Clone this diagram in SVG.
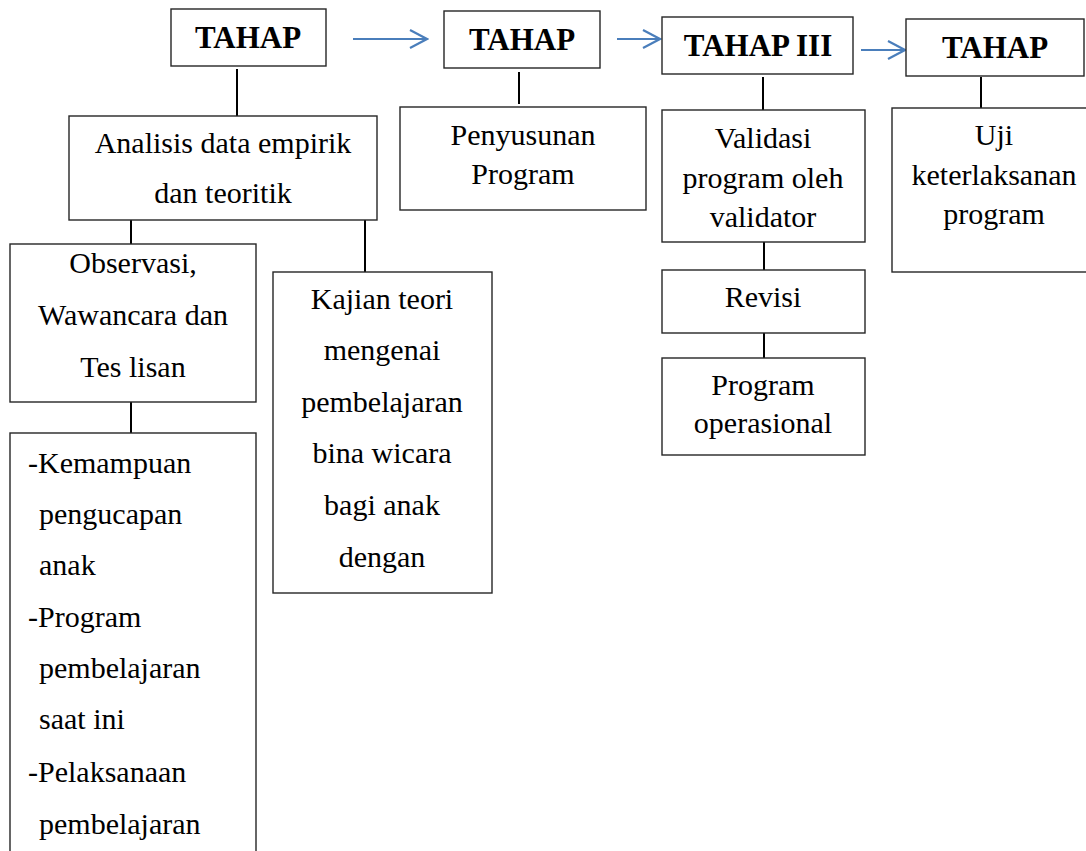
<svg xmlns="http://www.w3.org/2000/svg" width="1086" height="851" viewBox="0 0 1086 851">
<style>
  .box { fill: #ffffff; stroke: #262626; stroke-width: 1.4; }
  .t { font-family: "Liberation Serif", "Times New Roman", serif; font-size: 30px; fill: #000; text-anchor: middle; }
  .tl { font-family: "Liberation Serif", "Times New Roman", serif; font-size: 30px; fill: #000; text-anchor: start; }
  .h { font-family: "Liberation Serif", "Times New Roman", serif; font-size: 31px; font-weight: bold; fill: #000; text-anchor: middle; }
  .ln { stroke: #000; stroke-width: 2; fill: none; }
  .arr { stroke: #4a7ebb; stroke-width: 2.2; fill: none; }
</style>
<defs>
  <marker id="open" markerWidth="20" markerHeight="20" refX="18" refY="10" orient="auto" markerUnits="userSpaceOnUse">
    <path d="M1,1 L18,10 L1,19" fill="none" stroke="#4a7ebb" stroke-width="2.2"/>
  </marker>
</defs>
<rect width="1086" height="851" fill="#ffffff"/>

<g id="connectors">
  <line class="arr" x1="353" y1="39" x2="427" y2="39" marker-end="url(#open)"/>
  <line class="arr" x1="617" y1="39" x2="660" y2="39" marker-end="url(#open)"/>
  <line class="arr" x1="861" y1="50" x2="905" y2="50" marker-end="url(#open)"/>
  <line class="ln" x1="237" y1="69" x2="237" y2="116"/>
  <line class="ln" x1="519" y1="72" x2="519" y2="104"/>
  <line class="ln" x1="763" y1="77" x2="763" y2="110"/>
  <line class="ln" x1="981" y1="77" x2="981" y2="108"/>
  <line class="ln" x1="131" y1="220" x2="131" y2="244"/>
  <line class="ln" x1="365" y1="220" x2="365" y2="272"/>
  <line class="ln" x1="131" y1="402" x2="131" y2="433"/>
  <line class="ln" x1="764" y1="242" x2="764" y2="270"/>
  <line class="ln" x1="764" y1="333" x2="764" y2="358"/>
</g>

<g id="tahap1">
  <rect class="box" x="171" y="9" width="155" height="57"/>
  <text class="h" x="248" y="48">TAHAP</text>
</g>
<g id="tahap2">
  <rect class="box" x="444" y="11" width="156" height="57"/>
  <text class="h" x="522" y="50">TAHAP</text>
</g>
<g id="tahap3">
  <rect class="box" x="662" y="17" width="191" height="57"/>
  <text class="h" x="758" y="56">TAHAP III</text>
</g>
<g id="tahap4">
  <rect class="box" x="906" y="19" width="178" height="57"/>
  <text class="h" x="995" y="58">TAHAP</text>
</g>

<g id="analisis">
  <rect class="box" x="69" y="116" width="308" height="104"/>
  <text class="t" x="223" y="153">Analisis data empirik</text>
  <text class="t" x="223" y="203">dan teoritik</text>
</g>
<g id="penyusunan">
  <rect class="box" x="400" y="107" width="246" height="103"/>
  <text class="t" x="523" y="145">Penyusunan</text>
  <text class="t" x="523" y="184">Program</text>
</g>
<g id="validasi">
  <rect class="box" x="662" y="110" width="203" height="132"/>
  <text class="t" x="763" y="148">Validasi</text>
  <text class="t" x="763" y="188">program oleh</text>
  <text class="t" x="763" y="227">validator</text>
</g>
<g id="uji">
  <rect class="box" x="892" y="108" width="210" height="164"/>
  <text class="t" x="994" y="145">Uji</text>
  <text class="t" x="994" y="185">keterlaksanan</text>
  <text class="t" x="994" y="224">program</text>
</g>
<g id="observasi">
  <rect class="box" x="10" y="244" width="246" height="158"/>
  <text class="t" x="133" y="273">Observasi,</text>
  <text class="t" x="133" y="325">Wawancara dan</text>
  <text class="t" x="133" y="377">Tes lisan</text>
</g>
<g id="kajian">
  <rect class="box" x="273" y="272" width="219" height="321"/>
  <text class="t" x="382" y="309">Kajian teori</text>
  <text class="t" x="382" y="360">mengenai</text>
  <text class="t" x="382" y="412">pembelajaran</text>
  <text class="t" x="382" y="463">bina wicara</text>
  <text class="t" x="382" y="515">bagi anak</text>
  <text class="t" x="382" y="567">dengan</text>
</g>
<g id="revisi">
  <rect class="box" x="662" y="270" width="203" height="63"/>
  <text class="t" x="763" y="307">Revisi</text>
</g>
<g id="operasional">
  <rect class="box" x="662" y="358" width="203" height="97"/>
  <text class="t" x="763" y="395">Program</text>
  <text class="t" x="763" y="433">operasional</text>
</g>
<g id="daftar">
  <rect class="box" x="10" y="433" width="246" height="440"/>
  <text class="tl" x="28" y="473">-Kemampuan</text>
  <text class="tl" x="39" y="524">pengucapan</text>
  <text class="tl" x="39" y="575">anak</text>
  <text class="tl" x="28" y="627">-Program</text>
  <text class="tl" x="39" y="678">pembelajaran</text>
  <text class="tl" x="39" y="729">saat ini</text>
  <text class="tl" x="28" y="782">-Pelaksanaan</text>
  <text class="tl" x="39" y="834">pembelajaran</text>
</g>
</svg>
